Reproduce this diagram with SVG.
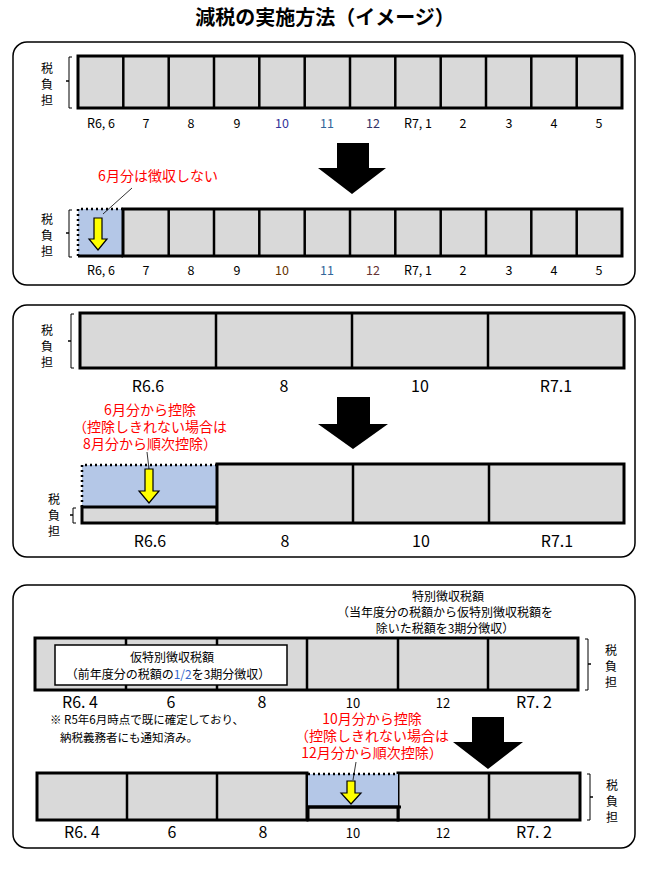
<svg xmlns="http://www.w3.org/2000/svg" width="650" height="871" viewBox="0 0 650 871">
<style>
text{font-family:"Noto Sans CJK JP","Liberation Sans",sans-serif;fill:#000}
.t{font-size:20px;font-weight:bold}
.l{font-size:12.5px;text-anchor:middle}
.L{font-size:16px;text-anchor:middle;font-family:"Liberation Sans","Noto Sans CJK JP",sans-serif}
.L2{font-size:13px;text-anchor:middle;font-family:"Liberation Sans","Noto Sans CJK JP",sans-serif}
.r{font-size:14px;fill:#f00;text-anchor:middle}
.s{font-size:12px;text-anchor:middle}
.v{font-size:12px;text-anchor:middle}
.n{font-size:11.5px}
.panel{fill:#fff;stroke:#000;stroke-width:1.5}
.bar{fill:#d9d9d9;stroke:#000;stroke-width:3}
.div{stroke:#000;stroke-width:2.5}
.blue{fill:#b4c7e7}
.dot{stroke:#000;stroke-width:2.5;stroke-dasharray:2 3;fill:none}
.yel{fill:#ffff00;stroke:#000;stroke-width:1.2}
.br{fill:none;stroke:#000;stroke-width:1}
</style>
<text x="325" y="25" class="t" text-anchor="middle">減税の実施方法（イメージ）</text>
<g id="panel1">
<rect class="panel" x="13" y="42" width="622" height="243" rx="14"/>
<rect class="bar" x="78" y="56" width="544" height="52"/>
<g class="div"><line x1="123.3" y1="56" x2="123.3" y2="108"/><line x1="168.7" y1="56" x2="168.7" y2="108"/><line x1="214" y1="56" x2="214" y2="108"/><line x1="259.3" y1="56" x2="259.3" y2="108"/><line x1="304.7" y1="56" x2="304.7" y2="108"/><line x1="350" y1="56" x2="350" y2="108"/><line x1="395.3" y1="56" x2="395.3" y2="108"/><line x1="440.7" y1="56" x2="440.7" y2="108"/><line x1="486" y1="56" x2="486" y2="108"/><line x1="531.3" y1="56" x2="531.3" y2="108"/><line x1="576.7" y1="56" x2="576.7" y2="108"/></g>
<path class="br" d="M72,57 h-3 v24 h-3 h3 v27 h3"/>
<text class="v" x="47" y="73">税</text><text class="v" x="47" y="89">負</text><text class="v" x="47" y="105">担</text>
<g class="l"><text x="101" y="128">R6, 6</text><text x="146" y="128">7</text><text x="191" y="128">8</text><text x="237" y="128">9</text><text x="282" y="128" style="fill:#333399">10</text><text x="327" y="128" style="fill:#336699">11</text><text x="373" y="128" style="fill:#333366">12</text><text x="418" y="128">R7, 1</text><text x="463" y="128">2</text><text x="509" y="128">3</text><text x="554" y="128">4</text><text x="599" y="128">5</text></g>
<path d="M337,143 H369 V168 H386 L352,194 L318,168 H337 Z"/>
<text class="r" x="158" y="181">6月分は徴収しない</text>
<rect class="blue" x="78" y="209" width="45" height="47"/>
<rect class="bar" x="123" y="209" width="499" height="47"/>
<path class="dot" d="M78,256 V209 H123"/>
<line x1="78" y1="256" x2="123" y2="256" stroke="#000" stroke-width="3"/>
<g class="div"><line x1="168.7" y1="209" x2="168.7" y2="256"/><line x1="214" y1="209" x2="214" y2="256"/><line x1="259.3" y1="209" x2="259.3" y2="256"/><line x1="304.7" y1="209" x2="304.7" y2="256"/><line x1="350" y1="209" x2="350" y2="256"/><line x1="395.3" y1="209" x2="395.3" y2="256"/><line x1="440.7" y1="209" x2="440.7" y2="256"/><line x1="486" y1="209" x2="486" y2="256"/><line x1="531.3" y1="209" x2="531.3" y2="256"/><line x1="576.7" y1="209" x2="576.7" y2="256"/></g>
<path class="yel" d="M94,218 H102 V239 H107 L98,250 L89,239 H94 Z"/>
<line x1="132" y1="188" x2="103" y2="214" stroke="#000" stroke-width="0.8"/>
<path class="br" d="M72,210 h-3 v23 h-3 h3 v24 h3"/>
<text class="v" x="47" y="224">税</text><text class="v" x="47" y="240">負</text><text class="v" x="47" y="256">担</text>
<g class="l"><text x="101" y="275">R6, 6</text><text x="146" y="275">7</text><text x="191" y="275">8</text><text x="237" y="275">9</text><text x="282" y="275" style="fill:#663300">10</text><text x="327" y="275" style="fill:#336699">11</text><text x="373" y="275" style="fill:#663333">12</text><text x="418" y="275">R7, 1</text><text x="463" y="275">2</text><text x="509" y="275">3</text><text x="554" y="275">4</text><text x="599" y="275">5</text></g>
</g>
<g id="panel2">
<rect class="panel" x="13" y="305" width="622" height="252" rx="14"/>
<rect class="bar" x="80" y="313" width="544" height="55"/>
<g class="div"><line x1="216" y1="313" x2="216" y2="368"/><line x1="352" y1="313" x2="352" y2="368"/><line x1="488" y1="313" x2="488" y2="368"/></g>
<path class="br" d="M74,314 h-3 v27 h-3 h3 v27 h3"/>
<text class="v" x="47" y="335">税</text><text class="v" x="47" y="351">負</text><text class="v" x="47" y="367">担</text>
<g class="L"><text x="148" y="392">R6.6</text><text x="284" y="392">8</text><text x="420" y="392">10</text><text x="556" y="392">R7.1</text></g>
<path d="M337,397 H370 V424 H388 L353,449 L318,424 H337 Z"/>
<text class="r" x="150" y="415">6月分から控除</text>
<text class="r" x="150" y="432">（控除しきれない場合は</text>
<text class="r" x="150" y="449">8月分から順次控除）</text>
<rect class="blue" x="82" y="465" width="135" height="42"/>
<path class="dot" d="M82,507 V465 H217"/>
<rect class="bar" x="82" y="507" width="135" height="16"/>
<rect class="bar" x="217" y="464" width="407" height="59"/>
<g class="div"><line x1="353" y1="464" x2="353" y2="523"/><line x1="489" y1="464" x2="489" y2="523"/></g>
<path class="yel" d="M145,469 H153 V491 H159 L149,503 L139,491 H145 Z"/>
<line x1="147" y1="452" x2="149" y2="469" stroke="#000" stroke-width="0.8"/>
<path class="br" d="M76,508 h-3 v7 h-3 h3 v8 h3"/>
<text class="v" x="54" y="504">税</text><text class="v" x="54" y="520">負</text><text class="v" x="54" y="536">担</text>
<g class="L"><text x="150" y="547">R6.6</text><text x="285" y="547">8</text><text x="421" y="547">10</text><text x="557" y="547">R7.1</text></g>
</g>
<g id="panel3">
<rect class="panel" x="13" y="585" width="622" height="263" rx="14"/>
<text class="s" x="448" y="601">特別徴収税額</text>
<text class="s" x="445" y="617">（当年度分の税額から仮特別徴収税額を</text>
<text class="s" x="445" y="633">除いた税額を3期分徴収）</text>
<rect class="bar" x="35" y="638" width="543" height="52"/>
<g class="div"><line x1="126" y1="638" x2="126" y2="690"/><line x1="217" y1="638" x2="217" y2="690"/><line x1="307" y1="638" x2="307" y2="690"/><line x1="398" y1="638" x2="398" y2="690"/><line x1="488" y1="638" x2="488" y2="690"/></g>
<rect x="55" y="645" width="232" height="40" fill="#fff" stroke="#000" stroke-width="1.5"/>
<text class="s" x="172" y="662">仮特別徴収税額</text>
<text class="s" x="168" y="679">（前年度分の税額の<tspan fill="#3366cc">1/2</tspan>を3期分徴収）</text>
<path class="br" d="M585,639 h3 v25 h3 h-3 v26 h-3"/>
<text class="v" x="611" y="655">税</text><text class="v" x="611" y="671">負</text><text class="v" x="611" y="687">担</text>
<g class="L"><text x="80" y="708">R6. 4</text><text x="171" y="708">6</text><text x="262" y="708">8</text><text x="534" y="708">R7. 2</text></g>
<g class="L2"><text x="353" y="708">10</text><text x="443" y="708">12</text></g>
<text class="n" x="50" y="724">※ R5年6月時点で既に確定しており、</text>
<text class="n" x="60" y="742">納税義務者にも通知済み。</text>
<text class="r" x="372" y="724">10月分から控除</text>
<text class="r" x="372" y="741">（控除しきれない場合は</text>
<text class="r" x="372" y="758">12月分から順次控除）</text>
<rect class="bar" x="37" y="773" width="270" height="47"/>
<rect class="bar" x="398" y="773" width="182" height="47"/>
<rect class="blue" x="308" y="774" width="90" height="33"/>
<path class="dot" d="M308,774 H398"/>
<rect class="bar" x="308" y="807" width="90" height="13"/>
<line x1="306" y1="807" x2="401" y2="807" stroke="#000" stroke-width="3"/>
<g class="div"><line x1="127" y1="773" x2="127" y2="820"/><line x1="217" y1="773" x2="217" y2="820"/><line x1="489" y1="773" x2="489" y2="820"/></g>
<path d="M472,717 H504 V742 H523 L488,769 L453,742 H472 Z"/>
<path class="yel" d="M347,781 H355 V793 H361 L351,804 L341,793 H347 Z"/>
<line x1="356" y1="762" x2="353" y2="780" stroke="#000" stroke-width="0.8"/>
<path class="br" d="M587,774 h3 v23 h3 h-3 v23 h-3"/>
<text class="v" x="612" y="790">税</text><text class="v" x="612" y="806">負</text><text class="v" x="612" y="822">担</text>
<g class="L"><text x="82" y="838">R6. 4</text><text x="172" y="838">6</text><text x="263" y="838">8</text><text x="534" y="838">R7. 2</text></g>
<g class="L2"><text x="353" y="838">10</text><text x="443" y="838">12</text></g>
</g>
</svg>
